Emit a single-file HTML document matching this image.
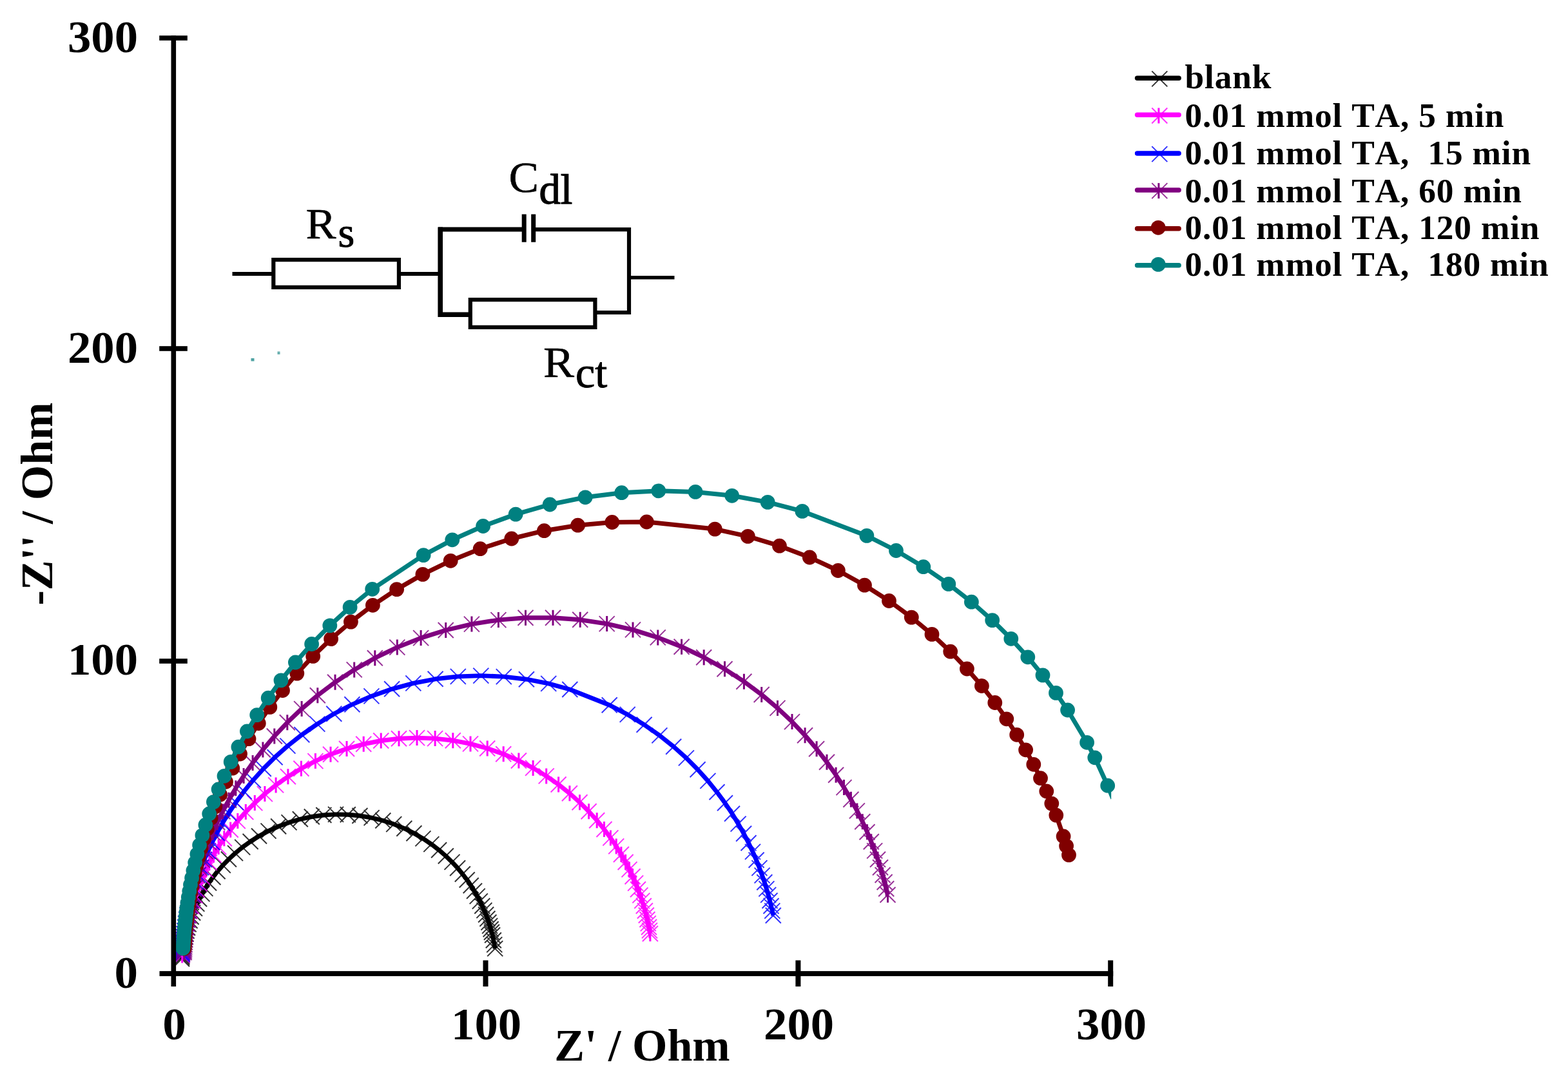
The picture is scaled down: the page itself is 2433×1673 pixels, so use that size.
<!DOCTYPE html>
<html><head><meta charset="utf-8"><title>Nyquist plot</title>
<style>html,body{margin:0;padding:0;background:#fff}svg{display:block}</style></head>
<body>
<svg width="2433" height="1673" viewBox="0 0 2433 1673">
<defs><clipPath id="plotclip"><rect x="0" y="0" width="1724.2" height="1673"/></clipPath></defs>
<rect width="2433" height="1673" fill="#fff"/>
<g><path d="M282 1488.1L282.1 1486.5L282.3 1484.7L282.5 1482.8L282.7 1480.8L283 1478.5L283.3 1476.2L283.6 1473.6L284 1470.8L284.5 1467.8L285.1 1464.6L285.8 1461.2L286.5 1457.5L287.4 1453.5L288.4 1449.2L289.6 1444.6L291 1439.7L292.6 1434.4L294.5 1428.8L296.6 1422.8L299.1 1416.5L302 1409.7L305.3 1402.6L309.1 1395L313.4 1387.1L318.4 1378.9L324 1370.2L330.4 1361.3L337.6 1352.2L345.8 1342.9L354.9 1333.5L365 1324.1L376.2 1314.9L388.6 1306L402 1297.5L416.5 1289.6L432.1 1282.5L448.5 1276.4L465.8 1271.3L483.8 1267.5L502.3 1265L521 1263.9L539.8 1264.2L558.4 1266L576.6 1269.1L594.3 1273.5L611.2 1279.1L627.3 1285.7L642.4 1293.2L656.4 1301.4L669.3 1310.1L681.1 1319.2L691.8 1328.5L701.5 1337.9L710.1 1347.2L717.8 1356.5L724.7 1365.5L730.7 1374.3L736 1382.8L740.7 1390.9L744.8 1398.6L748.3 1406L751.4 1412.9L754.1 1419.5L756.4 1425.7L758.4 1431.5L760.1 1436.9L761.6 1442L762.9 1446.8L764.1 1451.2L765.8 1459.2L767.2 1466.1L768.2 1472.1" stroke="#000000" stroke-width="6.9" fill="none" stroke-linejoin="round"/><path d="M270 1476.1l24 24m0 -24l-24 24M270.1 1474.5l24 24m0 -24l-24 24M270.3 1472.7l24 24m0 -24l-24 24M270.5 1470.8l24 24m0 -24l-24 24M270.7 1468.8l24 24m0 -24l-24 24M271 1466.5l24 24m0 -24l-24 24M271.3 1464.2l24 24m0 -24l-24 24M271.6 1461.6l24 24m0 -24l-24 24M272 1458.8l24 24m0 -24l-24 24M272.5 1455.8l24 24m0 -24l-24 24M273.1 1452.6l24 24m0 -24l-24 24M273.8 1449.2l24 24m0 -24l-24 24M274.5 1445.5l24 24m0 -24l-24 24M275.4 1441.5l24 24m0 -24l-24 24M276.4 1437.2l24 24m0 -24l-24 24M277.6 1432.6l24 24m0 -24l-24 24M279 1427.7l24 24m0 -24l-24 24M280.6 1422.4l24 24m0 -24l-24 24M282.5 1416.8l24 24m0 -24l-24 24M284.6 1410.8l24 24m0 -24l-24 24M287.1 1404.5l24 24m0 -24l-24 24M290 1397.7l24 24m0 -24l-24 24M293.3 1390.6l24 24m0 -24l-24 24M297.1 1383l24 24m0 -24l-24 24M301.4 1375.1l24 24m0 -24l-24 24M306.4 1366.9l24 24m0 -24l-24 24M312 1358.2l24 24m0 -24l-24 24M318.4 1349.3l24 24m0 -24l-24 24M325.6 1340.2l24 24m0 -24l-24 24M333.8 1330.9l24 24m0 -24l-24 24M342.9 1321.5l24 24m0 -24l-24 24M353 1312.1l24 24m0 -24l-24 24M364.2 1302.9l24 24m0 -24l-24 24M376.6 1294l24 24m0 -24l-24 24M390 1285.5l24 24m0 -24l-24 24M404.5 1277.6l24 24m0 -24l-24 24M420.1 1270.5l24 24m0 -24l-24 24M436.5 1264.4l24 24m0 -24l-24 24M453.8 1259.3l24 24m0 -24l-24 24M471.8 1255.5l24 24m0 -24l-24 24M490.3 1253l24 24m0 -24l-24 24M509 1251.9l24 24m0 -24l-24 24M527.8 1252.2l24 24m0 -24l-24 24M546.4 1254l24 24m0 -24l-24 24M564.6 1257.1l24 24m0 -24l-24 24M582.3 1261.5l24 24m0 -24l-24 24M599.2 1267.1l24 24m0 -24l-24 24M615.3 1273.7l24 24m0 -24l-24 24M630.4 1281.2l24 24m0 -24l-24 24M644.4 1289.4l24 24m0 -24l-24 24M657.3 1298.1l24 24m0 -24l-24 24M669.1 1307.2l24 24m0 -24l-24 24M679.8 1316.5l24 24m0 -24l-24 24M689.5 1325.9l24 24m0 -24l-24 24M698.1 1335.2l24 24m0 -24l-24 24M705.8 1344.5l24 24m0 -24l-24 24M712.7 1353.5l24 24m0 -24l-24 24M718.7 1362.3l24 24m0 -24l-24 24M724 1370.8l24 24m0 -24l-24 24M728.7 1378.9l24 24m0 -24l-24 24M732.8 1386.6l24 24m0 -24l-24 24M736.3 1394l24 24m0 -24l-24 24M739.4 1400.9l24 24m0 -24l-24 24M742.1 1407.5l24 24m0 -24l-24 24M744.4 1413.7l24 24m0 -24l-24 24M746.4 1419.5l24 24m0 -24l-24 24M748.1 1424.9l24 24m0 -24l-24 24M749.6 1430l24 24m0 -24l-24 24M750.9 1434.8l24 24m0 -24l-24 24M752.1 1439.2l24 24m0 -24l-24 24M753.8 1447.2l24 24m0 -24l-24 24M755.2 1454.1l24 24m0 -24l-24 24M756.2 1460.1l24 24m0 -24l-24 24" stroke="#000000" stroke-width="2.0" fill="none" stroke-opacity="0.8"/></g>
<g><path d="M282.7 1482.4L282.8 1480.1L283.1 1477.6L283.3 1475L283.6 1472.1L284 1468.9L284.4 1465.6L284.9 1461.9L285.4 1458L286.1 1453.8L286.8 1449.3L287.7 1444.4L288.7 1439.1L289.9 1433.5L291.3 1427.4L292.9 1420.9L294.7 1413.9L296.9 1406.4L299.4 1398.5L302.3 1389.9L305.6 1380.9L309.4 1371.2L313.9 1361L319 1350.1L324.8 1338.7L331.5 1326.7L339.1 1314.2L347.8 1301.2L357.7 1287.8L368.8 1274.1L381.3 1260.1L395.3 1246.1L410.9 1232.1L428.1 1218.4L446.9 1205.2L467.4 1192.7L489.4 1181.1L513 1170.8L538 1162L564.2 1154.8L591.2 1149.5L619 1146.2L647 1145.1L675.1 1146.1L702.8 1149.2L730 1154.4L756.2 1161.5L781.2 1170.2L804.9 1180.5L827.1 1191.9L847.7 1204.4L866.6 1217.5L883.9 1231.2L899.5 1245.2L913.6 1259.2L926.2 1273.2L937.5 1287L947.4 1300.4L956.2 1313.4L963.9 1326L970.6 1338L976.5 1349.4L981.6 1360.3L986.1 1370.6L990 1380.3L993.4 1389.4L996.3 1397.9L998.8 1406L1000.9 1413.5L1002.8 1420.5L1004.4 1427L1005.8 1433.1L1007 1438.8L1008 1444.1L1008.9 1449" stroke="#ff00ff" stroke-width="6.9" fill="none" stroke-linejoin="round"/><path d="M270.7 1470.4l24 24m0 -24l-24 24M270.8 1468.1l24 24m0 -24l-24 24M271.1 1465.6l24 24m0 -24l-24 24M271.3 1463l24 24m0 -24l-24 24M271.6 1460.1l24 24m0 -24l-24 24M272 1456.9l24 24m0 -24l-24 24M272.4 1453.6l24 24m0 -24l-24 24M272.9 1449.9l24 24m0 -24l-24 24M273.4 1446l24 24m0 -24l-24 24M274.1 1441.8l24 24m0 -24l-24 24M274.8 1437.3l24 24m0 -24l-24 24M275.7 1432.4l24 24m0 -24l-24 24M276.7 1427.1l24 24m0 -24l-24 24M277.9 1421.5l24 24m0 -24l-24 24M279.3 1415.4l24 24m0 -24l-24 24M280.9 1408.9l24 24m0 -24l-24 24M282.7 1401.9l24 24m0 -24l-24 24M284.9 1394.4l24 24m0 -24l-24 24M287.4 1386.5l24 24m0 -24l-24 24M290.3 1377.9l24 24m0 -24l-24 24M293.6 1368.9l24 24m0 -24l-24 24M297.4 1359.2l24 24m0 -24l-24 24M301.9 1349l24 24m0 -24l-24 24M307 1338.1l24 24m0 -24l-24 24M312.8 1326.7l24 24m0 -24l-24 24M319.5 1314.7l24 24m0 -24l-24 24M327.1 1302.2l24 24m0 -24l-24 24M335.8 1289.2l24 24m0 -24l-24 24M345.7 1275.8l24 24m0 -24l-24 24M356.8 1262.1l24 24m0 -24l-24 24M369.3 1248.1l24 24m0 -24l-24 24M383.3 1234.1l24 24m0 -24l-24 24M398.9 1220.1l24 24m0 -24l-24 24M416.1 1206.4l24 24m0 -24l-24 24M434.9 1193.2l24 24m0 -24l-24 24M455.4 1180.7l24 24m0 -24l-24 24M477.4 1169.1l24 24m0 -24l-24 24M501 1158.8l24 24m0 -24l-24 24M526 1150l24 24m0 -24l-24 24M552.2 1142.8l24 24m0 -24l-24 24M579.2 1137.5l24 24m0 -24l-24 24M607 1134.2l24 24m0 -24l-24 24M635 1133.1l24 24m0 -24l-24 24M663.1 1134.1l24 24m0 -24l-24 24M690.8 1137.2l24 24m0 -24l-24 24M718 1142.4l24 24m0 -24l-24 24M744.2 1149.5l24 24m0 -24l-24 24M769.2 1158.2l24 24m0 -24l-24 24M792.9 1168.5l24 24m0 -24l-24 24M815.1 1179.9l24 24m0 -24l-24 24M835.7 1192.4l24 24m0 -24l-24 24M854.6 1205.5l24 24m0 -24l-24 24M871.9 1219.2l24 24m0 -24l-24 24M887.5 1233.2l24 24m0 -24l-24 24M901.6 1247.2l24 24m0 -24l-24 24M914.2 1261.2l24 24m0 -24l-24 24M925.5 1275l24 24m0 -24l-24 24M935.4 1288.4l24 24m0 -24l-24 24M944.2 1301.4l24 24m0 -24l-24 24M951.9 1314l24 24m0 -24l-24 24M958.6 1326l24 24m0 -24l-24 24M964.5 1337.4l24 24m0 -24l-24 24M969.6 1348.3l24 24m0 -24l-24 24M974.1 1358.6l24 24m0 -24l-24 24M978 1368.3l24 24m0 -24l-24 24M981.4 1377.4l24 24m0 -24l-24 24M984.3 1385.9l24 24m0 -24l-24 24M986.8 1394l24 24m0 -24l-24 24M988.9 1401.5l24 24m0 -24l-24 24M990.8 1408.5l24 24m0 -24l-24 24M992.4 1415l24 24m0 -24l-24 24M993.8 1421.1l24 24m0 -24l-24 24M995 1426.8l24 24m0 -24l-24 24M996 1432.1l24 24m0 -24l-24 24M996.9 1437l24 24m0 -24l-24 24" stroke="#ff00ff" stroke-width="2.0" fill="none" stroke-opacity="0.8"/><path d="M282.7 1470.4v24M282.8 1468.1v24M283.1 1465.6v24M283.3 1463v24M283.6 1460.1v24M284 1456.9v24M284.4 1453.6v24M284.9 1449.9v24M285.4 1446v24M286.1 1441.8v24M286.8 1437.3v24M287.7 1432.4v24M288.7 1427.1v24M289.9 1421.5v24M291.3 1415.4v24M292.9 1408.9v24M294.7 1401.9v24M296.9 1394.4v24M299.4 1386.5v24M302.3 1377.9v24M305.6 1368.9v24M309.4 1359.2v24M313.9 1349v24M319 1338.1v24M324.8 1326.7v24M331.5 1314.7v24M339.1 1302.2v24M347.8 1289.2v24M357.7 1275.8v24M368.8 1262.1v24M381.3 1248.1v24M395.3 1234.1v24M410.9 1220.1v24M428.1 1206.4v24M446.9 1193.2v24M467.4 1180.7v24M489.4 1169.1v24M513 1158.8v24M538 1150v24M564.2 1142.8v24M591.2 1137.5v24M619 1134.2v24M647 1133.1v24M675.1 1134.1v24M702.8 1137.2v24M730 1142.4v24M756.2 1149.5v24M781.2 1158.2v24M804.9 1168.5v24M827.1 1179.9v24M847.7 1192.4v24M866.6 1205.5v24M883.9 1219.2v24M899.5 1233.2v24M913.6 1247.2v24M926.2 1261.2v24M937.5 1275v24M947.4 1288.4v24M956.2 1301.4v24M963.9 1314v24M970.6 1326v24M976.5 1337.4v24M981.6 1348.3v24M986.1 1358.6v24M990 1368.3v24M993.4 1377.4v24M996.3 1385.9v24M998.8 1394v24M1000.9 1401.5v24M1002.8 1408.5v24M1004.4 1415v24M1005.8 1421.1v24M1007 1426.8v24M1008 1432.1v24M1008.9 1437v24" stroke="#ff00ff" stroke-width="3.0" fill="none"/></g>
<g><path d="M282.4 1480.7L282.6 1478.2L282.8 1475.4L283 1472.5L283.3 1469.3L283.6 1465.9L284 1462.2L284.5 1458.2L285 1454L285.6 1449.3L286.3 1444.4L287.1 1439L288.1 1433.2L289.2 1427L290.5 1420.3L292 1413.1L293.8 1405.4L295.8 1397.2L298.2 1388.3L301 1378.8L304.1 1368.6L307.8 1357.8L312.1 1346.3L317 1334L322.7 1321L329.2 1307.2L336.6 1292.7L345.2 1277.5L354.9 1261.7L366 1245.2L378.6 1228.2L392.8 1210.7L408.8 1193L426.6 1175.2L446.4 1157.6L468.3 1140.3L492.3 1123.6L518.3 1107.8L546.4 1093.3L576.4 1080.4L608.1 1069.3L641.3 1060.4L675.6 1053.8L710.8 1049.9L746.3 1048.6L781.8 1050.1L816.9 1054.2L851.2 1060.9L884.3 1070L945.7 1094.2L973.7 1108.9L999.6 1124.7L1023.4 1141.4L1045.2 1158.8L1064.9 1176.4L1082.6 1194.2L1098.4 1211.9L1112.5 1229.3L1125 1246.3L1136 1262.7L1145.6 1278.6L1154.1 1293.7L1161.5 1308.2L1168 1321.9L1173.6 1334.8L1178.4 1347.1L1182.6 1358.6L1186.3 1369.3L1189.4 1379.4L1192.2 1388.9L1194.5 1397.7L1196.5 1406L1198.3 1413.6L1199.8 1420.8" stroke="#0000ff" stroke-width="6.9" fill="none" stroke-linejoin="round"/><path d="M270.4 1468.7l24 24m0 -24l-24 24M270.6 1466.2l24 24m0 -24l-24 24M270.8 1463.4l24 24m0 -24l-24 24M271 1460.5l24 24m0 -24l-24 24M271.3 1457.3l24 24m0 -24l-24 24M271.6 1453.9l24 24m0 -24l-24 24M272 1450.2l24 24m0 -24l-24 24M272.5 1446.2l24 24m0 -24l-24 24M273 1442l24 24m0 -24l-24 24M273.6 1437.3l24 24m0 -24l-24 24M274.3 1432.4l24 24m0 -24l-24 24M275.1 1427l24 24m0 -24l-24 24M276.1 1421.2l24 24m0 -24l-24 24M277.2 1415l24 24m0 -24l-24 24M278.5 1408.3l24 24m0 -24l-24 24M280 1401.1l24 24m0 -24l-24 24M281.8 1393.4l24 24m0 -24l-24 24M283.8 1385.2l24 24m0 -24l-24 24M286.2 1376.3l24 24m0 -24l-24 24M289 1366.8l24 24m0 -24l-24 24M292.1 1356.6l24 24m0 -24l-24 24M295.8 1345.8l24 24m0 -24l-24 24M300.1 1334.3l24 24m0 -24l-24 24M305 1322l24 24m0 -24l-24 24M310.7 1309l24 24m0 -24l-24 24M317.2 1295.2l24 24m0 -24l-24 24M324.6 1280.7l24 24m0 -24l-24 24M333.2 1265.5l24 24m0 -24l-24 24M342.9 1249.7l24 24m0 -24l-24 24M354 1233.2l24 24m0 -24l-24 24M366.6 1216.2l24 24m0 -24l-24 24M380.8 1198.7l24 24m0 -24l-24 24M396.8 1181l24 24m0 -24l-24 24M414.6 1163.2l24 24m0 -24l-24 24M434.4 1145.6l24 24m0 -24l-24 24M456.3 1128.3l24 24m0 -24l-24 24M480.3 1111.6l24 24m0 -24l-24 24M506.3 1095.8l24 24m0 -24l-24 24M534.4 1081.3l24 24m0 -24l-24 24M564.4 1068.4l24 24m0 -24l-24 24M596.1 1057.3l24 24m0 -24l-24 24M629.3 1048.4l24 24m0 -24l-24 24M663.6 1041.8l24 24m0 -24l-24 24M698.8 1037.9l24 24m0 -24l-24 24M734.3 1036.6l24 24m0 -24l-24 24M769.8 1038.1l24 24m0 -24l-24 24M804.9 1042.2l24 24m0 -24l-24 24M839.2 1048.9l24 24m0 -24l-24 24M872.3 1058l24 24m0 -24l-24 24M933.7 1082.2l24 24m0 -24l-24 24M961.7 1096.9l24 24m0 -24l-24 24M987.6 1112.7l24 24m0 -24l-24 24M1011.4 1129.4l24 24m0 -24l-24 24M1033.2 1146.8l24 24m0 -24l-24 24M1052.9 1164.4l24 24m0 -24l-24 24M1070.6 1182.2l24 24m0 -24l-24 24M1086.4 1199.9l24 24m0 -24l-24 24M1100.5 1217.3l24 24m0 -24l-24 24M1113 1234.3l24 24m0 -24l-24 24M1124 1250.7l24 24m0 -24l-24 24M1133.6 1266.6l24 24m0 -24l-24 24M1142.1 1281.7l24 24m0 -24l-24 24M1149.5 1296.2l24 24m0 -24l-24 24M1156 1309.9l24 24m0 -24l-24 24M1161.6 1322.8l24 24m0 -24l-24 24M1166.4 1335.1l24 24m0 -24l-24 24M1170.6 1346.6l24 24m0 -24l-24 24M1174.3 1357.3l24 24m0 -24l-24 24M1177.4 1367.4l24 24m0 -24l-24 24M1180.2 1376.9l24 24m0 -24l-24 24M1182.5 1385.7l24 24m0 -24l-24 24M1184.5 1394l24 24m0 -24l-24 24M1186.3 1401.6l24 24m0 -24l-24 24M1187.8 1408.8l24 24m0 -24l-24 24" stroke="#0000ff" stroke-width="2.0" fill="none" stroke-opacity="0.8"/></g>
<g><path d="M285.7 1478L285.9 1475.4L286.1 1472.5L286.3 1469.4L286.6 1466L286.9 1462.4L287.3 1458.5L287.7 1454.3L288.2 1449.7L288.7 1444.8L289.4 1439.5L290.2 1433.8L291.1 1427.7L292.2 1421.1L293.4 1414L294.8 1406.3L296.5 1398.1L298.4 1389.2L300.6 1379.8L303.2 1369.6L306.3 1358.7L309.7 1347L313.8 1334.5L318.5 1321.2L323.9 1307.1L330.1 1292.1L337.3 1276.2L345.5 1259.4L355 1241.7L365.8 1223.2L378.1 1204L392.1 1184L407.9 1163.5L425.8 1142.5L445.8 1121.3L468.1 1100.1L492.8 1079.2L520 1058.8L549.7 1039.4L581.8 1021.2L616.3 1004.6L653.1 990.1L691.7 978L731.9 968.6L773.4 962.1L815.5 958.8L858 958.7L900.2 961.8L941.7 968.1L982 977.4L1020.8 989.4L1057.6 1003.7L1092.2 1020.2L1124.5 1038.3L1154.4 1057.7L1181.7 1078L1206.5 1098.9L1229 1120.1L1249.1 1141.3L1267.1 1162.3L1283 1182.8L1297.1 1202.8L1309.5 1222.1L1320.4 1240.7L1329.9 1258.4L1338.3 1275.2L1345.5 1291.2L1351.8 1306.2L1357.2 1320.4L1362 1333.8L1366 1346.3L1369.6 1358L1372.6 1369L1375.2 1379.2L1377.5 1388.7" stroke="#800080" stroke-width="6.9" fill="none" stroke-linejoin="round"/><path d="M273.7 1466l24 24m0 -24l-24 24M273.9 1463.4l24 24m0 -24l-24 24M274.1 1460.5l24 24m0 -24l-24 24M274.3 1457.4l24 24m0 -24l-24 24M274.6 1454l24 24m0 -24l-24 24M274.9 1450.4l24 24m0 -24l-24 24M275.3 1446.5l24 24m0 -24l-24 24M275.7 1442.3l24 24m0 -24l-24 24M276.2 1437.7l24 24m0 -24l-24 24M276.7 1432.8l24 24m0 -24l-24 24M277.4 1427.5l24 24m0 -24l-24 24M278.2 1421.8l24 24m0 -24l-24 24M279.1 1415.7l24 24m0 -24l-24 24M280.2 1409.1l24 24m0 -24l-24 24M281.4 1402l24 24m0 -24l-24 24M282.8 1394.3l24 24m0 -24l-24 24M284.5 1386.1l24 24m0 -24l-24 24M286.4 1377.2l24 24m0 -24l-24 24M288.6 1367.8l24 24m0 -24l-24 24M291.2 1357.6l24 24m0 -24l-24 24M294.3 1346.7l24 24m0 -24l-24 24M297.7 1335l24 24m0 -24l-24 24M301.8 1322.5l24 24m0 -24l-24 24M306.5 1309.2l24 24m0 -24l-24 24M311.9 1295.1l24 24m0 -24l-24 24M318.1 1280.1l24 24m0 -24l-24 24M325.3 1264.2l24 24m0 -24l-24 24M333.5 1247.4l24 24m0 -24l-24 24M343 1229.7l24 24m0 -24l-24 24M353.8 1211.2l24 24m0 -24l-24 24M366.1 1192l24 24m0 -24l-24 24M380.1 1172l24 24m0 -24l-24 24M395.9 1151.5l24 24m0 -24l-24 24M413.8 1130.5l24 24m0 -24l-24 24M433.8 1109.3l24 24m0 -24l-24 24M456.1 1088.1l24 24m0 -24l-24 24M480.8 1067.2l24 24m0 -24l-24 24M508 1046.8l24 24m0 -24l-24 24M537.7 1027.4l24 24m0 -24l-24 24M569.8 1009.2l24 24m0 -24l-24 24M604.3 992.6l24 24m0 -24l-24 24M641.1 978.1l24 24m0 -24l-24 24M679.7 966l24 24m0 -24l-24 24M719.9 956.6l24 24m0 -24l-24 24M761.4 950.1l24 24m0 -24l-24 24M803.5 946.8l24 24m0 -24l-24 24M846 946.7l24 24m0 -24l-24 24M888.2 949.8l24 24m0 -24l-24 24M929.7 956.1l24 24m0 -24l-24 24M970 965.4l24 24m0 -24l-24 24M1008.8 977.4l24 24m0 -24l-24 24M1045.6 991.7l24 24m0 -24l-24 24M1080.2 1008.2l24 24m0 -24l-24 24M1112.5 1026.3l24 24m0 -24l-24 24M1142.4 1045.7l24 24m0 -24l-24 24M1169.7 1066l24 24m0 -24l-24 24M1194.5 1086.9l24 24m0 -24l-24 24M1217 1108.1l24 24m0 -24l-24 24M1237.1 1129.3l24 24m0 -24l-24 24M1255.1 1150.3l24 24m0 -24l-24 24M1271 1170.8l24 24m0 -24l-24 24M1285.1 1190.8l24 24m0 -24l-24 24M1297.5 1210.1l24 24m0 -24l-24 24M1308.4 1228.7l24 24m0 -24l-24 24M1317.9 1246.4l24 24m0 -24l-24 24M1326.3 1263.2l24 24m0 -24l-24 24M1333.5 1279.2l24 24m0 -24l-24 24M1339.8 1294.2l24 24m0 -24l-24 24M1345.2 1308.4l24 24m0 -24l-24 24M1350 1321.8l24 24m0 -24l-24 24M1354 1334.3l24 24m0 -24l-24 24M1357.6 1346l24 24m0 -24l-24 24M1360.6 1357l24 24m0 -24l-24 24M1363.2 1367.2l24 24m0 -24l-24 24M1365.5 1376.7l24 24m0 -24l-24 24" stroke="#800080" stroke-width="2.0" fill="none" stroke-opacity="0.8"/><path d="M285.7 1466v24M285.9 1463.4v24M286.1 1460.5v24M286.3 1457.4v24M286.6 1454v24M286.9 1450.4v24M287.3 1446.5v24M287.7 1442.3v24M288.2 1437.7v24M288.7 1432.8v24M289.4 1427.5v24M290.2 1421.8v24M291.1 1415.7v24M292.2 1409.1v24M293.4 1402v24M294.8 1394.3v24M296.5 1386.1v24M298.4 1377.2v24M300.6 1367.8v24M303.2 1357.6v24M306.3 1346.7v24M309.7 1335v24M313.8 1322.5v24M318.5 1309.2v24M323.9 1295.1v24M330.1 1280.1v24M337.3 1264.2v24M345.5 1247.4v24M355 1229.7v24M365.8 1211.2v24M378.1 1192v24M392.1 1172v24M407.9 1151.5v24M425.8 1130.5v24M445.8 1109.3v24M468.1 1088.1v24M492.8 1067.2v24M520 1046.8v24M549.7 1027.4v24M581.8 1009.2v24M616.3 992.6v24M653.1 978.1v24M691.7 966v24M731.9 956.6v24M773.4 950.1v24M815.5 946.8v24M858 946.7v24M900.2 949.8v24M941.7 956.1v24M982 965.4v24M1020.8 977.4v24M1057.6 991.7v24M1092.2 1008.2v24M1124.5 1026.3v24M1154.4 1045.7v24M1181.7 1066v24M1206.5 1086.9v24M1229 1108.1v24M1249.1 1129.3v24M1267.1 1150.3v24M1283 1170.8v24M1297.1 1190.8v24M1309.5 1210.1v24M1320.4 1228.7v24M1329.9 1246.4v24M1338.3 1263.2v24M1345.5 1279.2v24M1351.8 1294.2v24M1357.2 1308.4v24M1362 1321.8v24M1366 1334.3v24M1369.6 1346v24M1372.6 1357v24M1375.2 1367.2v24M1377.5 1376.7v24" stroke="#800080" stroke-width="3.0" fill="none"/></g>
<g><path d="M286 1472.3L286.2 1469.5L286.4 1466.3L286.6 1463L286.8 1459.4L287.1 1455.5L287.4 1451.3L287.8 1446.7L288.3 1441.8L288.8 1436.6L289.4 1430.9L290.1 1424.7L291 1418.1L291.9 1411L293.1 1403.3L294.4 1395L295.9 1386.1L297.7 1376.5L299.7 1366.2L302.1 1355.1L304.9 1343.2L308.1 1330.5L311.9 1316.8L316.2 1302.2L321.3 1286.5L327.1 1269.8L333.8 1252.1L341.6 1233.2L350.5 1213.3L360.8 1192.2L372.5 1170L386 1146.7L401.3 1122.5L418.8 1097.4L438.5 1071.5L460.8 1045.1L485.7 1018.4L513.6 991.6L544.4 965.1L578.4 939.3L615.6 914.6L655.9 891.4L699.2 870.3L745.2 851.7L793.8 836L844.4 823.7L896.6 815.2L949.8 810.5L1003.4 810L1109.3 821.1L1160.4 832.4L1209.5 847.2L1256.3 865L1300.4 885.5L1341.5 908.2L1379.5 932.5L1414.3 958.1L1446 984.4L1474.7 1011.2L1500.4 1038L1523.4 1064.5L1543.8 1090.5L1561.8 1115.8L1577.7 1140.3L1591.6 1163.8L1603.8 1186.3L1614.5 1207.7L1623.8 1228L1631.8 1247.1L1638.8 1265.2L1650.1 1298L1654.6 1312.9L1658.5 1326.9" stroke="#800000" stroke-width="7.0" fill="none" stroke-linejoin="round"/><path d="M286 1472.3h0M286.2 1469.5h0M286.4 1466.3h0M286.6 1463h0M286.8 1459.4h0M287.1 1455.5h0M287.4 1451.3h0M287.8 1446.7h0M288.3 1441.8h0M288.8 1436.6h0M289.4 1430.9h0M290.1 1424.7h0M291 1418.1h0M291.9 1411h0M293.1 1403.3h0M294.4 1395h0M295.9 1386.1h0M297.7 1376.5h0M299.7 1366.2h0M302.1 1355.1h0M304.9 1343.2h0M308.1 1330.5h0M311.9 1316.8h0M316.2 1302.2h0M321.3 1286.5h0M327.1 1269.8h0M333.8 1252.1h0M341.6 1233.2h0M350.5 1213.3h0M360.8 1192.2h0M372.5 1170h0M386 1146.7h0M401.3 1122.5h0M418.8 1097.4h0M438.5 1071.5h0M460.8 1045.1h0M485.7 1018.4h0M513.6 991.6h0M544.4 965.1h0M578.4 939.3h0M615.6 914.6h0M655.9 891.4h0M699.2 870.3h0M745.2 851.7h0M793.8 836h0M844.4 823.7h0M896.6 815.2h0M949.8 810.5h0M1003.4 810h0M1109.3 821.1h0M1160.4 832.4h0M1209.5 847.2h0M1256.3 865h0M1300.4 885.5h0M1341.5 908.2h0M1379.5 932.5h0M1414.3 958.1h0M1446 984.4h0M1474.7 1011.2h0M1500.4 1038h0M1523.4 1064.5h0M1543.8 1090.5h0M1561.8 1115.8h0M1577.7 1140.3h0M1591.6 1163.8h0M1603.8 1186.3h0M1614.5 1207.7h0M1623.8 1228h0M1631.8 1247.1h0M1638.8 1265.2h0M1650.1 1298h0M1654.6 1312.9h0M1658.5 1326.9h0" stroke="#800000" stroke-width="22.8" stroke-linecap="round" fill="none"/></g>
<g><path d="M284 1471.7L284.2 1468.8L284.4 1465.6L284.6 1462.1L284.8 1458.4L285.1 1454.4L285.4 1450.1L285.8 1445.4L286.2 1440.4L286.8 1434.9L287.4 1429.1L288.1 1422.8L288.9 1415.9L289.9 1408.6L291 1400.7L292.3 1392.2L293.8 1383L295.5 1373.1L297.6 1362.5L299.9 1351.1L302.7 1338.8L305.9 1325.6L309.6 1311.5L313.9 1296.4L318.9 1280.2L324.7 1263L331.4 1244.6L339.1 1225L348 1204.3L358.2 1182.4L369.9 1159.2L383.4 1135L398.7 1109.6L416.2 1083.2L436 1055.9L458.4 1028L483.6 999.5L511.8 970.9L543.1 942.4L577.7 914.3L657.1 861.6L701.8 837.8L749.6 816.5L800.2 798.1L853.2 783L908.2 771.8L964.6 764.7L1021.8 761.8L1079.1 763.4L1135.8 769.3L1191.2 779.4L1244.9 793.4L1344.9 831.4L1390.5 854.5L1432.8 879.7L1471.8 906.4L1507.4 934.2L1539.7 962.6L1568.8 991.3L1594.8 1019.8L1618 1047.9L1638.5 1075.4L1656.6 1102L1686.6 1152.3L1698.8 1175.8L1718.7 1219.2L1726.7 1239.1" stroke="#008080" stroke-width="7.0" fill="none" stroke-linejoin="round" clip-path="url(#plotclip)"/><path d="M284 1471.7h0M284.2 1468.8h0M284.4 1465.6h0M284.6 1462.1h0M284.8 1458.4h0M285.1 1454.4h0M285.4 1450.1h0M285.8 1445.4h0M286.2 1440.4h0M286.8 1434.9h0M287.4 1429.1h0M288.1 1422.8h0M288.9 1415.9h0M289.9 1408.6h0M291 1400.7h0M292.3 1392.2h0M293.8 1383h0M295.5 1373.1h0M297.6 1362.5h0M299.9 1351.1h0M302.7 1338.8h0M305.9 1325.6h0M309.6 1311.5h0M313.9 1296.4h0M318.9 1280.2h0M324.7 1263h0M331.4 1244.6h0M339.1 1225h0M348 1204.3h0M358.2 1182.4h0M369.9 1159.2h0M383.4 1135h0M398.7 1109.6h0M416.2 1083.2h0M436 1055.9h0M458.4 1028h0M483.6 999.5h0M511.8 970.9h0M543.1 942.4h0M577.7 914.3h0M657.1 861.6h0M701.8 837.8h0M749.6 816.5h0M800.2 798.1h0M853.2 783h0M908.2 771.8h0M964.6 764.7h0M1021.8 761.8h0M1079.1 763.4h0M1135.8 769.3h0M1191.2 779.4h0M1244.9 793.4h0M1344.9 831.4h0M1390.5 854.5h0M1432.8 879.7h0M1471.8 906.4h0M1507.4 934.2h0M1539.7 962.6h0M1568.8 991.3h0M1594.8 1019.8h0M1618 1047.9h0M1638.5 1075.4h0M1656.6 1102h0M1686.6 1152.3h0M1698.8 1175.8h0M1718.7 1219.2h0" stroke="#008080" stroke-width="22.8" stroke-linecap="round" fill="none"/></g>
<rect x="389.5" y="556" width="5" height="4.5" fill="#4fa3a3"/><rect x="430.5" y="545.5" width="4" height="4.5" fill="#6ab0b0"/>
<g fill="#000">
<rect x="265.5" y="55.2" width="7.6" height="1475.8"/>
<rect x="247.5" y="1507.1" width="1479.7" height="7.8"/>
<rect x="247.2" y="55.2" width="43.6" height="7.6"/>
<rect x="247.2" y="537.2" width="43.6" height="7.6"/>
<rect x="247.2" y="1022.2" width="43.6" height="7.6"/>
<rect x="749.5" y="1490.4" width="8" height="40.6"/>
<rect x="1234.4" y="1490.4" width="8" height="40.6"/>
<rect x="1719.2" y="1490.4" width="8" height="40.6"/>
</g>
<g font-family="'Liberation Serif', serif" font-weight="bold" font-size="70" fill="#000">
<text x="214" y="81" text-anchor="end" textLength="109" lengthAdjust="spacingAndGlyphs">300</text>
<text x="214" y="562.5" text-anchor="end" textLength="109" lengthAdjust="spacingAndGlyphs">200</text>
<text x="214" y="1047.3" text-anchor="end" textLength="109" lengthAdjust="spacingAndGlyphs">100</text>
<text x="214" y="1533" text-anchor="end" textLength="36.5" lengthAdjust="spacingAndGlyphs">0</text>
<text x="270.5" y="1612.7" text-anchor="middle" textLength="36.5" lengthAdjust="spacingAndGlyphs">0</text>
<text x="754.6" y="1612.7" text-anchor="middle" textLength="109" lengthAdjust="spacingAndGlyphs">100</text>
<text x="1239.6" y="1612.7" text-anchor="middle" textLength="109" lengthAdjust="spacingAndGlyphs">200</text>
<text x="1724.6" y="1612.7" text-anchor="middle" textLength="109" lengthAdjust="spacingAndGlyphs">300</text>
<text x="996.5" y="1646.3" text-anchor="middle">Z' / Ohm</text>
<text transform="translate(80.7 782) rotate(-90)" text-anchor="middle">-Z'' / Ohm</text>
</g>
<g font-family="'Liberation Serif', serif" font-weight="bold" font-size="53.4" fill="#000" style="font-kerning:none;letter-spacing:0.8px">
<path d="M1764.6 121.2H1829.1" stroke="#000000" stroke-width="7.5" stroke-linecap="round"/>
<path d="M1787.3 110.4l24 24m0 -24l-24 24" stroke="#000000" stroke-width="2.0" fill="none" stroke-opacity="0.8"/>
<text x="1838.6" y="137.4" xml:space="preserve" style="white-space:pre">blank</text>
<path d="M1764.6 178.3H1829.1" stroke="#ff00ff" stroke-width="7.5" stroke-linecap="round"/>
<path d="M1787.3 167.5l24 24m0 -24l-24 24" stroke="#ff00ff" stroke-width="2.0" fill="none" stroke-opacity="0.8"/><path d="M1797.9 167.5v24" stroke="#ff00ff" stroke-width="3.0" fill="none"/>
<text x="1838.6" y="197.1" xml:space="preserve" style="white-space:pre">0.01 mmol TA, 5 min</text>
<path d="M1764.6 237.9H1829.1" stroke="#0000ff" stroke-width="7.5" stroke-linecap="round"/>
<path d="M1787.3 227.1l24 24m0 -24l-24 24" stroke="#0000ff" stroke-width="2.0" fill="none" stroke-opacity="0.8"/>
<text x="1838.6" y="254.7" xml:space="preserve" style="white-space:pre">0.01 mmol TA,  15 min</text>
<path d="M1764.6 294.9H1829.1" stroke="#800080" stroke-width="7.5" stroke-linecap="round"/>
<path d="M1787.3 284.1l24 24m0 -24l-24 24" stroke="#800080" stroke-width="2.0" fill="none" stroke-opacity="0.8"/><path d="M1797.9 284.1v24" stroke="#800080" stroke-width="3.0" fill="none"/>
<text x="1838.6" y="314" xml:space="preserve" style="white-space:pre">0.01 mmol TA, 60 min</text>
<path d="M1764.6 354.7H1829.1" stroke="#800000" stroke-width="7.5" stroke-linecap="round"/>
<path d="M1797.2 353.3h0" stroke="#800000" stroke-width="22.8" stroke-linecap="round" fill="none"/>
<text x="1838.6" y="371.2" xml:space="preserve" style="white-space:pre">0.01 mmol TA, 120 min</text>
<path d="M1764.6 411.8H1829.1" stroke="#008080" stroke-width="7.5" stroke-linecap="round"/>
<path d="M1797.2 410.4h0" stroke="#008080" stroke-width="22.8" stroke-linecap="round" fill="none"/>
<text x="1838.6" y="427.6" xml:space="preserve" style="white-space:pre">0.01 mmol TA,  180 min</text>
</g>
<g stroke="#000" fill="none" stroke-width="6.2">
<path d="M360.5 425H424M619 425H680"/>
<rect x="424.3" y="403.1" width="194.6" height="42.8"/>
<path d="M829 356.2H976V485H923"/>
<path d="M680 356H813" stroke-width="7.2"/>
<path d="M683.2 352.4V488.3H730" stroke-width="7.6"/>
<path d="M813.2 332.5V375.7M827.7 332.5V375.7" stroke-width="7"/>
<rect x="729.8" y="465.1" width="193.6" height="42.8"/>
<path d="M976 430.8H1046.5" stroke-width="5.6"/>
</g>
<g font-family="'Liberation Serif', serif" font-size="67" fill="#000" stroke="#000" stroke-width="0.5">
<text x="474.5" y="370" textLength="47" lengthAdjust="spacingAndGlyphs">R</text><text x="524.5" y="383.4" font-size="66" stroke-width="1">s</text>
<text x="789.5" y="298" textLength="46.5" lengthAdjust="spacingAndGlyphs">C</text><text x="836.5" y="316.3" font-size="66.5" stroke-width="1.3">dl</text>
<text x="843" y="585.3" textLength="48" lengthAdjust="spacingAndGlyphs">R</text><text x="893" y="601.3" font-size="68" stroke-width="1">ct</text>
</g>
</svg>
</body></html>
